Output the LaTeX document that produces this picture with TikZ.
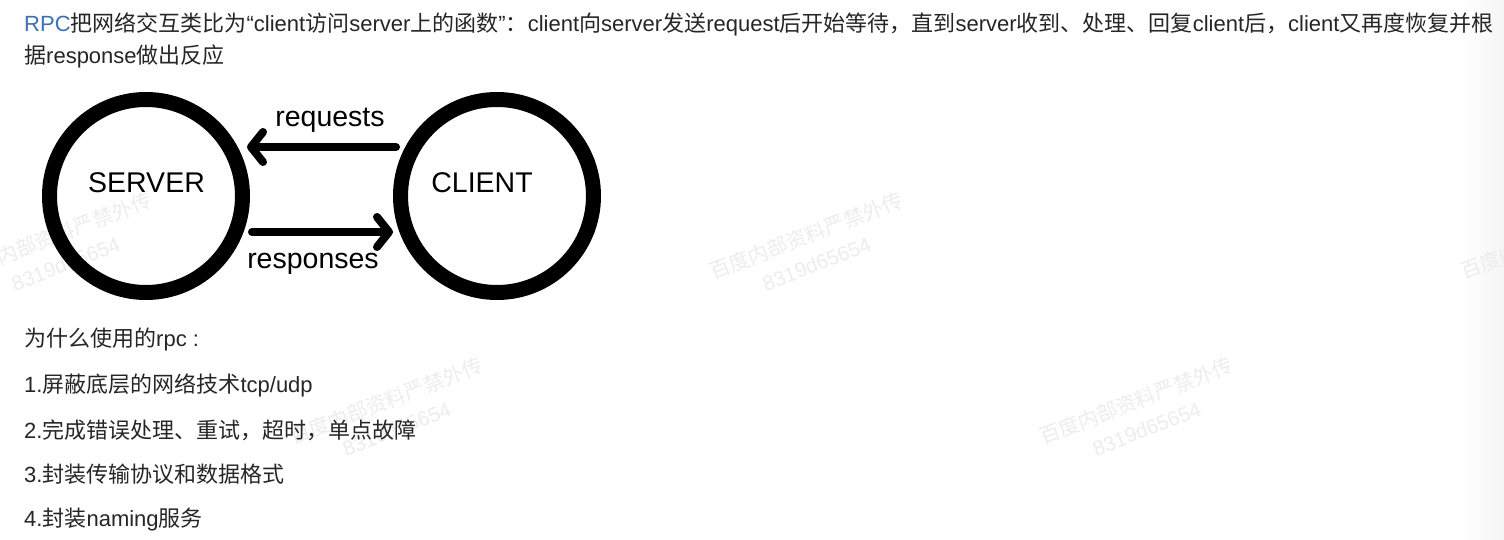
\documentclass[tikz,border=0pt]{standalone}
\usepackage{fontspec}
\setmainfont{Liberation Sans}
\newfontfamily\cjk{Noto Sans CJK SC}
\usetikzlibrary{arrows.meta}
\definecolor{txt}{RGB}{38,38,38}
\definecolor{rpcblue}{RGB}{62,112,180}
\definecolor{wm}{RGB}{237,237,237}
\newcommand{\zh}[1]{{\cjk #1}}
\tikzset{
  body/.style={anchor=base west, inner sep=0pt, text=txt, font=\fontsize{22pt}{26pt}\selectfont},
  ring/.style={circle, draw=black, line width=15pt, minimum size=193pt, inner sep=0pt},
  dlabel/.style={anchor=base, inner sep=0pt, text=black, font=\fontsize{28.5pt}{32pt}\selectfont},
  flow/.style={line width=8pt, line cap=round, -{Straight Barb[length=12pt,width=30pt,round]}},
  wmark/.style={rotate=21, align=center, inner sep=0pt, text=wm, font=\fontsize{20.5pt}{29.5pt}\selectfont}
}
\begin{document}
\begin{tikzpicture}[x=1pt,y=-1pt]
\useasboundingbox (0,0) rectangle (1504,540);
\fill[white] (0,0) rectangle (1504,540);
\shade[left color=white, right color=black!4] (1462,0) rectangle (1504,540);
% watermarks
\node[wmark] (wm1) at (60,249) {\zh{百度内部资料严禁外传}\\8319d65654};
\node[wmark] (wm2) at (811,249) {\zh{百度内部资料严禁外传}\\8319d65654};
\node[wmark] (wm3) at (1562,249) {\zh{百度内部资料严禁外传}\\8319d65654};
\node[wmark] (wm4) at (391,414) {\zh{百度内部资料严禁外传}\\8319d65654};
\node[wmark] (wm5) at (1141,414) {\zh{百度内部资料严禁外传}\\8319d65654};
% paragraph
\node[body] (p1) at (24,32) {\textcolor{rpcblue}{RPC}\zh{把网络交互类比为}“client\zh{访问}server\zh{上的函数}”\zh{：}client\zh{向}server\zh{发送}request\zh{后开始等待，直到}server\zh{收到、处理、回复}client\zh{后，}client\zh{又再度恢复并根}};
\node[body] (p2) at (24,63.5) {\zh{据}response\zh{做出反应}};
% diagram
\node[ring] (server) at (146,196) {};
\node[ring] (client) at (497,196) {};
\node[dlabel] (servertxt) at (146.5,193) {SERVER};
\node[dlabel] (clienttxt) at (482,193) {CLIENT};
\draw[flow] ([shift={(-101,-49)}]client.center) -- ([shift={(101,-49)}]server.center);
\draw[flow] ([shift={(106,36)}]server.center) -- ([shift={(-104,36)}]client.center);
\node[dlabel] (reqtxt) at (330,127) {requests};
\node[dlabel] (resptxt) at (313,268) {responses};
% list
\node[body] (q0) at (24,346) {\zh{为什么使用的}rpc :};
\node[body] (q1) at (24,392) {1.\zh{屏蔽底层的网络技术}tcp/udp};
\node[body] (q2) at (24,438) {2.\zh{完成错误处理、重试，超时，单点故障}};
\node[body] (q3) at (24,482) {3.\zh{封装传输协议和数据格式}};
\node[body] (q4) at (24,526) {4.\zh{封装}naming\zh{服务}};
\end{tikzpicture}
\end{document}
